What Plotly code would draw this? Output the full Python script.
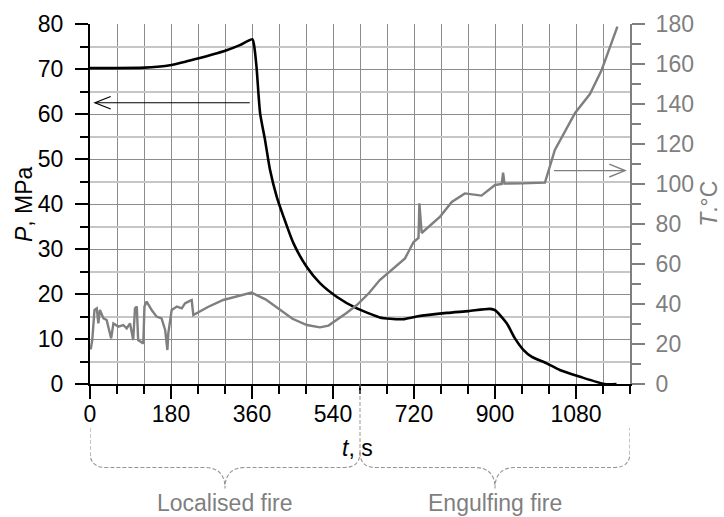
import plotly.graph_objects as go

# Pressure in the vessel (left axis), MPa
t_pressure = [0, 60, 121, 150, 181, 212, 242, 272, 302, 333, 361, 365, 370, 378, 389, 400, 415, 430,
              452, 481, 511, 548, 593, 630, 644, 667, 696, 726, 793, 841, 889, 900,
              926, 944, 963, 981, 1015, 1044, 1089, 1144, 1170]
pressure = [70.2, 70.2, 70.3, 70.5, 70.9, 71.6, 72.4, 73.2, 74.1, 75.3, 76.6, 75.0, 70.5, 60.2, 54.2, 47.6, 41.6, 37.2,
            31.3, 26.1, 22.4, 19.4, 16.8, 15.3, 14.8, 14.5, 14.4, 15.0, 15.8, 16.2, 16.7, 16.4,
            13.5, 10.2, 7.6, 6.1, 4.6, 3.1, 1.6, 0.0, 0.0]

# Wall temperature (right axis), deg C
t_temp = [0, 2, 5, 10, 15, 18.5, 22, 30, 37, 47, 52, 63, 74, 81.5, 89, 96, 100, 104, 107, 113,
          118.5, 121, 126, 137, 148, 159, 167, 172, 174, 181.5, 193, 204, 211, 218.5, 226, 229.6,
          262, 296, 330, 359, 390, 422, 450, 482, 511, 530, 548, 570, 593, 620, 644, 672, 700,
          719, 730, 732, 737, 778, 804, 833, 870,
          900, 915, 918, 921, 960, 1011, 1033, 1078, 1111, 1137, 1172]
temp = [17.5, 17.8, 22, 37, 37.8, 30.3, 37, 32.8, 32, 22.8, 30.3, 28.7, 29.5, 27.8, 30.3, 22, 37.8, 38.7, 22, 21,
        20.3, 38.7, 41.2, 37, 33.7, 32.8, 27, 17, 25.3, 37, 38.7, 37.8, 40.3, 41.2, 42, 34.5,
        38.5, 42, 44, 45.7, 42.3, 37, 32.6, 29.5, 28.3, 29.2, 32, 35.5, 39.5, 45.5, 52, 57.5, 62.8,
        71, 73, 90.3, 75.5, 83.7, 91, 95.3, 94.2,
        99.5, 100, 105.7, 100.2, 100.3, 100.7, 117, 135.5, 145, 157, 178.7]

x_tick_values = [0, 180, 360, 540, 720, 900, 1080]
phase_names = ["Localised fire", "Engulfing fire"]
phase_bounds = [0, 600, 1200]

FONT = "Liberation Sans, Arial, sans-serif"
FS = 23
GREY = "#7f7f7f"
GRID = "#8c8c8c"
GRID_LIGHT = "#c6c6c6"
BRACE = "#959595"

fig = go.Figure()
fig.add_trace(go.Scatter(x=t_pressure, y=pressure, mode="lines",
                         line=dict(color="black", width=2.6, shape="spline", smoothing=0.6),
                         yaxis="y", showlegend=False))
fig.add_trace(go.Scatter(x=t_temp, y=temp, mode="lines",
                         line=dict(color=GREY, width=2.4), yaxis="y2", showlegend=False))

fig.update_layout(
    width=724, height=517,
    margin=dict(l=90, r=94, t=24, b=133),
    paper_bgcolor="white", plot_bgcolor="white",
    font=dict(family=FONT, size=FS, color="black"),
    xaxis=dict(
        range=[0, 1200], tickvals=x_tick_values, ticks="outside", ticklen=13,
        tickwidth=1.5, tickcolor="black", showline=True, linecolor="black", linewidth=2,
        showgrid=True, gridcolor=GRID, gridwidth=1, zeroline=False,
        tickfont=dict(size=FS, color="black"), ticklabelstandoff=-5,
        minor=dict(dtick=60, tick0=0, ticks="outside", ticklen=8, tickwidth=1.5,
                   tickcolor="black", showgrid=True, gridcolor=GRID, gridwidth=1),
    ),
    yaxis=dict(
        range=[0, 80], dtick=10, ticks="outside", ticklen=13, tickwidth=1.5,
        tickcolor="black", showline=True, linecolor="black", linewidth=2,
        showgrid=True, gridcolor=GRID, gridwidth=1, zeroline=False,
        tickfont=dict(size=FS, color="black"), ticklabelstandoff=7,
        minor=dict(dtick=5, ticks="outside", ticklen=8, tickwidth=1.5, tickcolor="black",
                   showgrid=True, gridcolor=GRID_LIGHT, gridwidth=2),
    ),
    yaxis2=dict(
        range=[0, 180], dtick=20, overlaying="y", side="right", ticks="outside",
        ticklen=13, tickwidth=1.5, tickcolor=GREY, showline=True, linecolor=GREY,
        linewidth=2, showgrid=False, zeroline=False,
        tickfont=dict(size=FS, color=GREY), ticklabelstandoff=6,
        minor=dict(dtick=10, ticks="outside", ticklen=9, tickwidth=1.5, tickcolor=GREY),
    ),
)

# Axis titles
fig.add_annotation(text="<i>P</i>, MPa", xref="paper", yref="paper", x=-0.122, y=0.5,
                   xanchor="center", yanchor="middle",
                   textangle=-90, showarrow=False, font=dict(size=FS, color="black"))
fig.add_annotation(text="<i>T</i>.°C", xref="paper", yref="paper", x=1.146, y=0.5,
                   xanchor="center", yanchor="middle",
                   textangle=-90, showarrow=False, font=dict(size=FS, color=GREY))
fig.add_annotation(text="<i>t</i>, s", xref="x", yref="paper", x=594, y=-0.178,
                   xanchor="center", yanchor="middle",
                   showarrow=False, font=dict(size=FS, color="black"))

# Direction arrows: pressure -> left axis, temperature -> right axis
p_arrow = 62.5
fig.add_shape(type="line", xref="x", yref="y", x0=355, x1=11, y0=p_arrow, y1=p_arrow,
              line=dict(color="black", width=1.2))
fig.add_shape(type="path", xref="x", yref="y",
              path=f"M 46,{p_arrow + 1.4} L 11,{p_arrow} L 46,{p_arrow - 1.4}",
              line=dict(color="black", width=1.2))
t_arrow = 106.7
fig.add_shape(type="line", xref="x", yref="y2", x0=1031, x1=1189, y0=t_arrow, y1=t_arrow,
              line=dict(color=GREY, width=1.4))
fig.add_shape(type="path", xref="x", yref="y2",
              path=f"M 1154,{t_arrow + 3.2} L 1189,{t_arrow} L 1154,{t_arrow - 3.2}",
              line=dict(color=GREY, width=1.4))

# Phase boundary and braces below the time axis
fig.add_shape(type="line", xref="x", yref="paper", x0=phase_bounds[1], x1=phase_bounds[1],
              y0=0, y1=-0.2, line=dict(color=BRACE, width=1, dash="4px,2px"))

y_top, y_bend, y_line, y_tip = -0.122, -0.19, -0.232, -0.29
for (a, b), name in zip(zip(phase_bounds[:-1], phase_bounds[1:]), phase_names):
    mid = (a + b) / 2
    r = 35
    rt = 45
    top_a = y_top if a == phase_bounds[0] else y_bend
    top_b = y_top if b == phase_bounds[-1] else y_bend
    path = (f"M {a},{top_a} L {a},{y_bend} Q {a},{y_line} {a + r},{y_line} "
            f"L {mid - rt},{y_line} Q {mid},{y_line} {mid},{y_tip} "
            f"Q {mid},{y_line} {mid + rt},{y_line} L {b - r},{y_line} "
            f"Q {b},{y_line} {b},{y_bend} L {b},{top_b}")
    fig.add_shape(type="path", xref="x", yref="paper", path=path,
                  line=dict(color=BRACE, width=1.1, dash="4px,2px"))
    fig.add_annotation(text=name, xref="x", yref="paper", x=mid, y=-0.331,
                       xanchor="center", yanchor="middle",
                       showarrow=False, font=dict(size=FS, color=GREY))

fig.write_html("out.html")
